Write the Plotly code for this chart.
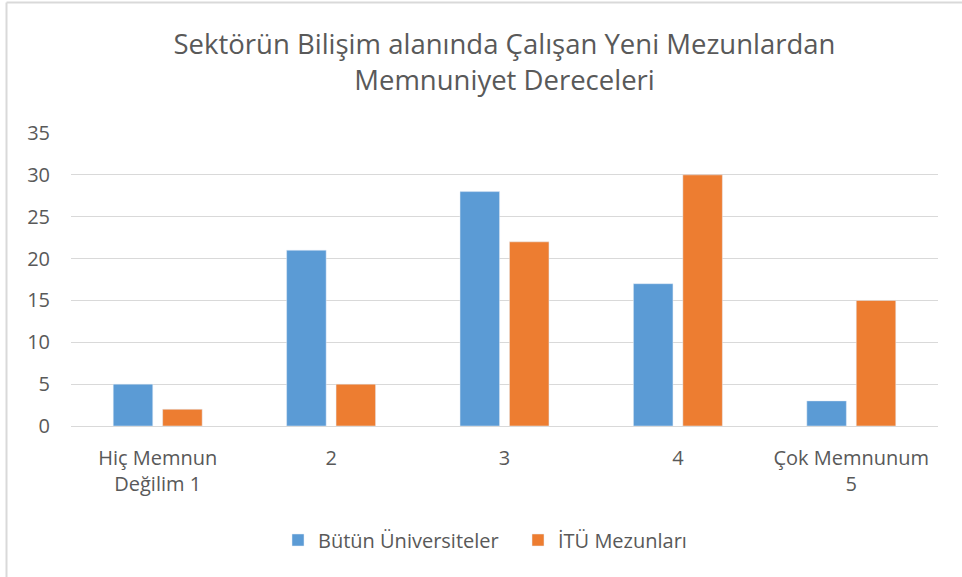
import plotly.graph_objects as go

categories = ["Hiç Memnun<br>Değilim 1", "2", "3", "4", "Çok Memnunum<br>5"]
butun = [5, 21, 28, 17, 3]
itu = [2, 5, 22, 30, 15]
series_names = ["Bütün Üniversiteler", "İTÜ Mezunları"]
title_text = "Sektörün Bilişim alanında Çalışan Yeni Mezunlardan<br>Memnuniyet Dereceleri"

FONT = "Open Sans"
GREY = "#595959"

fig = go.Figure()
fig.add_trace(go.Bar(x=categories, y=butun, name=series_names[0], marker_color="#5B9BD5"))
fig.add_trace(go.Bar(x=categories, y=itu, name=series_names[1], marker_color="#ED7D31"))

L, R, T, B = 71, 24, 133, 151
W, H = 962, 577
pw = W - L - R
ph = H - T - B

fig.update_layout(
    width=W, height=H,
    margin=dict(l=L, r=R, t=T, b=B, autoexpand=False),
    paper_bgcolor="white", plot_bgcolor="white",
    barmode="group", bargap=0.43, bargroupgap=0.2,
    font=dict(family=FONT, color=GREY, size=20),
    title=dict(text=title_text, x=0.5, xanchor="center", xref="paper",
               y=1 - 54 / H, yanchor="middle", yref="container",
               font=dict(family=FONT, size=27.5, color=GREY)),
    legend=dict(orientation="h", x=(278 - L) / pw, xanchor="left", xref="paper",
                y=1 - 540 / H, yref="container", entrywidth=195, entrywidthmode="pixels",
                yanchor="middle", font=dict(size=20, color=GREY),
                traceorder="normal"),
    xaxis=dict(showgrid=False, showline=False, ticks="", tickfont=dict(size=20),
               ticklabelstandoff=18, automargin=False),
    yaxis=dict(range=[0, 35], dtick=5, showgrid=True, gridcolor="#d9d9d9", gridwidth=1,
               zeroline=True, zerolinecolor="#d9d9d9", zerolinewidth=1,
               showline=False, ticks="", ticklabelstandoff=20, tickfont=dict(size=20),
               automargin=False),
    shapes=[
        dict(type="line", xref="paper", yref="paper",
             x0=(6.5 - L) / pw, x1=(W + 5 - L) / pw, y0=(H - B - 2.5) / ph, y1=(H - B - 2.5) / ph,
             line=dict(color="#d9d9d9", width=2)),
        dict(type="line", xref="paper", yref="paper",
             x0=(6.5 - L) / pw, x1=(6.5 - L) / pw, y0=(H - B - 2.5) / ph, y1=-(B + 5) / ph,
             line=dict(color="#d9d9d9", width=2)),
    ],
)
fig.write_html("out.html", config={"displayModeBar": False},
               post_script="document.body.style.margin='0';")
